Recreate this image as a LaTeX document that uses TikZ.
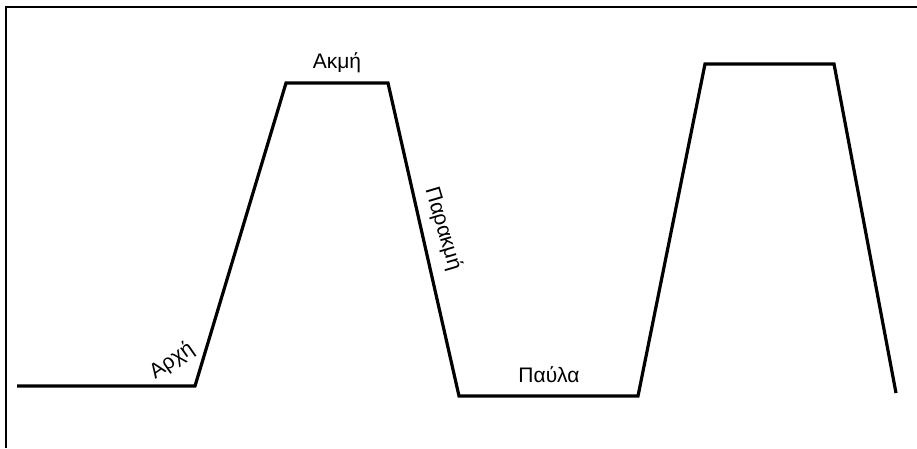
\documentclass[tikz,border=0pt]{standalone}
\usepackage{fontspec}
\setmainfont{Liberation Sans}
\begin{document}
\begin{tikzpicture}[x=1pt,y=-1pt,
  curve/.style={line width=3.2pt,line join=miter,line cap=butt},
  frameline/.style={line width=2.5pt},
  lbl/.style={font=\fontsize{21}{21}\selectfont,inner sep=0pt}]
\useasboundingbox (0,0) rectangle (917,448);
\coordinate (fa) at (6,448);
\coordinate (fb) at (6,7);
\coordinate (fc) at (917,7);
\draw[frameline] (fa) -- (fb) -- (fc);
\coordinate (p0) at (17,386);
\coordinate (p1) at (195,386);
\coordinate (p2) at (286,83);
\coordinate (p3) at (388,83);
\coordinate (p4) at (459,396);
\coordinate (p5) at (638,396);
\coordinate (p6) at (705,64);
\coordinate (p7) at (834,64);
\coordinate (p8) at (896,393);
\draw[curve] (p0) -- (p1) -- (p2) -- (p3) -- (p4) -- (p5) -- (p6) -- (p7) -- (p8);
\node[lbl] (akmi) at (337,63) {Ακμή};
\node[lbl,rotate=35] (arxi) at (172,361) {Αρχή};
\node[lbl,rotate=-73.5] (parakmi) at (443,229) {Παρακμή};
\node[lbl] (pavla) at (549,375) {Παύλα};
\end{tikzpicture}
\end{document}
